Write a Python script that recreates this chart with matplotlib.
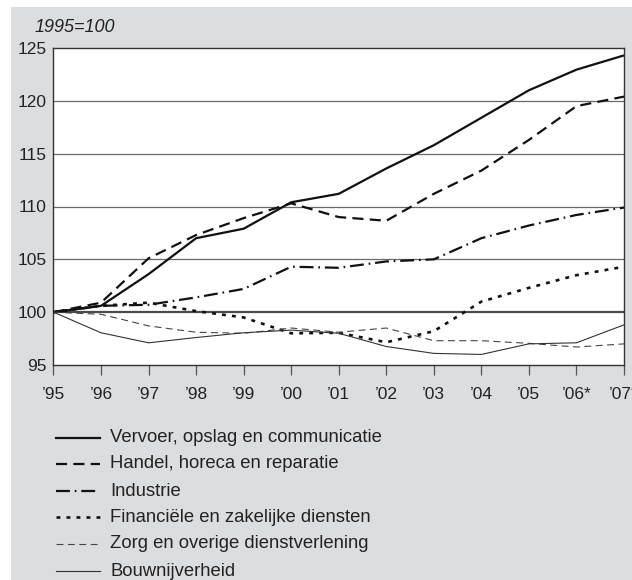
import matplotlib as mpl
import matplotlib.pyplot as plt
from matplotlib.patches import Rectangle
from matplotlib.lines import Line2D

mpl.rcParams.update({
    "font.family": ["Liberation Sans", "DejaVu Sans"],
    "font.size": 11.5,
    "lines.scale_dashes": False,
})

YEARS = ["’95", "’96", "’97", "’98", "’99", "’00", "’01", "’02", "’03",
         "’04", "’05", "’06*", "’07*"]

SECTORS = [
    "Vervoer, opslag en communicatie",
    "Handel, horeca en reparatie",
    "Industrie",
    "Financiële en zakelijke diensten",
    "Zorg en overige dienstverlening",
    "Bouwnijverheid",
]

vervoer = [100, 100.6, 103.6, 107.0, 107.9, 110.4, 111.2, 113.6, 115.8, 118.4, 121.0, 122.95, 124.3]
handel = [100, 100.9, 105.1, 107.3, 108.9, 110.3, 109.0, 108.65, 111.2, 113.4, 116.3, 119.5, 120.4]
industrie = [100, 100.6, 100.7, 101.4, 102.2, 104.3, 104.2, 104.8, 105.0, 107.0, 108.2, 109.2, 109.9]
financieel = [100, 100.6, 100.9, 100.1, 99.5, 98.0, 98.05, 97.15, 98.2, 101.0, 102.3, 103.5, 104.3]
zorg = [100, 99.8, 98.7, 98.1, 98.0, 98.5, 98.1, 98.5, 97.3, 97.3, 97.05, 96.7, 97.0]
bouw = [100, 98.05, 97.1, 97.6, 98.05, 98.3, 98.0, 96.75, 96.1, 96.0, 97.0, 97.1, 98.8]

SERIES = [vervoer, handel, industrie, financieel, zorg, bouw]

STYLES = [
    dict(color="#111111", lw=1.6, ls="-"),
    dict(color="#111111", lw=1.6, ls=(0, (8, 4.5))),
    dict(color="#111111", lw=1.6, ls=(0, (10, 3.5, 1.2, 3.5))),
    dict(color="#111111", lw=1.9, ls=(0, (2.8, 4.4))),
    dict(color="#444444", lw=0.8, ls=(0, (5, 3.2))),
    dict(color="#333333", lw=0.8, ls="-"),
]

GREY = "#dcdddf"

fig = plt.figure(figsize=(6.32, 5.8), dpi=100)
fig.patch.set_facecolor("white")
fig.patches.append(Rectangle((11 / 632, 0), 1, 1 - 7 / 580, transform=fig.transFigure,
                             facecolor=GREY, edgecolor="none", zorder=-10))

ax = fig.add_axes([53.5 / 632, 1 - 365 / 580, (624 - 53.5) / 632, (365 - 48) / 580])
ax.set_facecolor("white")
ax.set_zorder(1)

x = list(range(len(YEARS)))
for values, style in zip(SERIES, STYLES):
    ax.plot(x, values, solid_capstyle="butt", dash_capstyle="butt", zorder=3, **style)

for level in [105, 110, 115, 120]:
    ax.axhline(level, color="#6a6a6a", lw=0.9, zorder=1)
ax.axhline(100, color="#4a4a4a", lw=1.6, zorder=1)

ax.set_xlim(0, len(YEARS) - 1)
ax.set_ylim(95, 125)
ax.set_xticks(x)
ax.set_xticklabels(YEARS)
ax.set_yticks([95, 100, 105, 110, 115, 120, 125])
ax.tick_params(axis="y", length=0, pad=5, labelsize=12.5, colors="#222222")
ax.tick_params(axis="x", length=7, width=0.9, color="#555555", pad=9, labelsize=12.5,
               labelcolor="#222222")
for side in ["left", "right", "top", "bottom"]:
    ax.spines[side].set_color("#333333")
    ax.spines[side].set_linewidth(1.0)

fig.text(35 / 632, 1 - 28 / 580, "1995=100", style="italic", fontsize=13,
         color="#222222", va="center", ha="left")

# legend drawn by hand in figure pixels
row_y = [438, 464, 491, 517, 544, 571]
for label, style, yp in zip(SECTORS, STYLES, row_y):
    yf = 1 - yp / 580
    fig.add_artist(Line2D([56 / 632, 100 / 632], [yf, yf], transform=fig.transFigure,
                          dash_capstyle="butt", **style))
    fig.text(110 / 632, yf, label, fontsize=13.3, color="#222222", va="center", ha="left")

fig.savefig("out.png", dpi=100)
